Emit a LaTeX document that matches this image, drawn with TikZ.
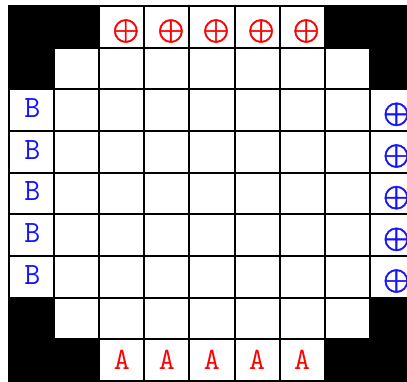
\documentclass[tikz,border=0pt]{standalone}
\usepackage{fontspec}
\newfontfamily\cellsymfont{Latin Modern Math}[FakeBold=1.4]
\newfontfamily\cellmonofont{Latin Modern Mono}
\definecolor{lblred}{RGB}{255,0,0}
\definecolor{lblblue}{RGB}{20,20,255}
\tikzset{
  gridline/.style={line width=2pt, black},
  blackarea/.style={fill=black, draw=black, line width=2pt},
  redlbl/.style={text=lblred, font=\cellmonofont\fontsize{31}{31}\selectfont, inner sep=0pt},
  bluelbl/.style={text=lblblue, font=\cellmonofont\fontsize{31}{31}\selectfont, inner sep=0pt},
  redsym/.style={text=lblred, font=\cellsymfont\bfseries\fontsize{34}{34}\selectfont, inner sep=0pt},
  bluesym/.style={text=lblblue, font=\cellsymfont\bfseries\fontsize{34}{34}\selectfont, inner sep=0pt}
}
\begin{document}
\begin{tikzpicture}
\path[use as bounding box, fill=white] (0,0) rectangle (407pt,-381pt);
\clip (0,0) rectangle (407pt,-381pt);
\begin{scope}[shift={(9pt,-6pt)}, x=45.1pt, y=-41.67pt]
  % grid lines
  \foreach \i in {0,...,9} {
    \draw[gridline] (\i,0) -- (\i,9);
    \draw[gridline] (0,\i) -- (9,\i);
  }
  % black corner areas
  \draw[blackarea] (0,0) -- (2,0) -- (2,1) -- (1,1) -- (1,2) -- (0,2) -- cycle;
  \draw[blackarea] (7,0) -- (9,0) -- (9,2) -- (8,2) -- (8,1) -- (7,1) -- cycle;
  \draw[blackarea] (0,7) -- (1,7) -- (1,8) -- (2,8) -- (2,9) -- (0,9) -- cycle;
  \draw[blackarea] (8,7) -- (9,7) -- (9,9) -- (7,9) -- (7,8) -- (8,8) -- cycle;
  % top red circled plus
  \foreach \c in {2,...,6} {
    \node[redsym] (t\c) at (\c+0.59,0.6) {⊕};
  }
  % bottom red A
  \foreach \c in {2,...,6} {
    \node[redlbl] (a\c) at (\c+0.5,8.5) {A};
  }
  % left blue B
  \foreach \r in {2,...,6} {
    \node[bluelbl] (b\r) at (0.52,\r+0.45) {B};
  }
  % right blue circled plus
  \foreach \r in {2,...,6} {
    \node[bluesym] (p\r) at (8.59,\r+0.6) {⊕};
  }
\end{scope}
\end{tikzpicture}
\end{document}
